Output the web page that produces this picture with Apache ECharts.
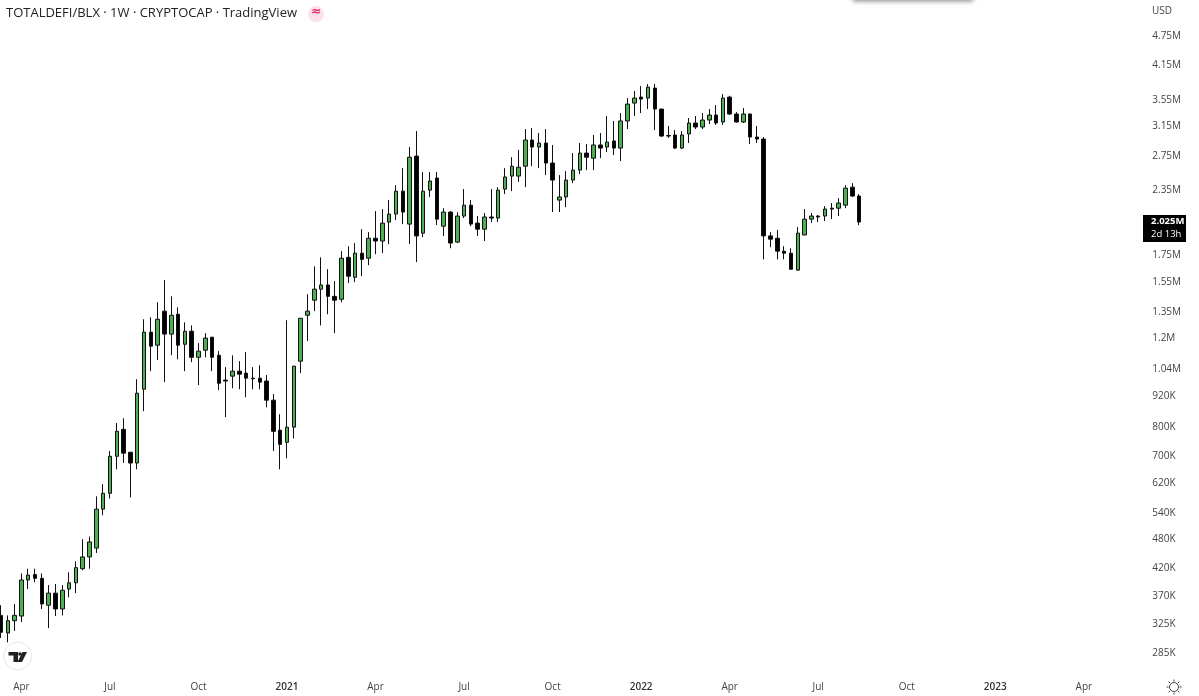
<!DOCTYPE html>
<html>
<head>
<meta charset="utf-8">
<style>html,body{margin:0;padding:0;background:#fff}#c{width:1199px;height:696px}</style>
<script src="https://cdn.jsdelivr.net/npm/echarts@6/dist/echarts.min.js"></script>
</head>
<body>
<div id="c"></div>
<script>
// Prices in thousands of USD, one entry per weekly candle, starting 2020-03-16
const opens = [337,311,329,336,396,406,399,353,373,347,380,391,417,440,458,547,588,696,787,709,675,945,1226,1155,1349,1215,1330,1160,1231,1093,1129,1198,1103,985,1003,1026,1017,994,994,981,899,784,742,795,1074,1324,1418,1491,1520,1443,1424,1724,1574,1757,1717,1881,1857,2025,2100,2331,2006,2735,1925,2342,2475,1987,2119,1848,2081,2187,2015,1960,2072,2062,2353,2497,2497,2612,2943,2850,2903,2650,2238,2270,2452,2566,2773,2709,2877,2850,2930,2837,3210,3483,3579,3563,3729,3389,3004,3011,2837,3025,3180,3123,3224,3298,3195,3579,3313,3195,3313,2983,2956,1901,1881,1773,1757,1626,1909,2052,2081,2081,2157,2157,2187,2374,2280];
const closes = [312,329,337,396,405,399,355,373,347,378,391,419,440,471,547,588,696,780,706,675,928,1226,1150,1300,1215,1324,1155,1231,1093,1124,1193,1093,971,981,1026,1012,994,991,976,899,780,735,795,1050,1306,1349,1491,1520,1443,1418,1717,1582,1757,1708,1881,1857,2015,2100,2331,2119,2721,1901,2331,2441,2052,2119,1840,2081,2187,2006,1960,2072,2062,2342,2486,2612,2600,2943,2850,2903,2650,2452,2270,2452,2566,2773,2721,2877,2837,2916,2837,3210,3467,3563,3547,3746,3389,2997,2997,2837,3011,3180,3123,3224,3298,3180,3563,3313,3195,3313,2983,2956,1901,1873,1773,1757,1633,1925,2052,2081,2072,2148,2148,2208,2363,2280,2025];
const lows = [304,298,314,327,380,392,347,318,336,337,366,373,414,417,448,532,574,656,675,577,656,855,1026,1079,976,1103,1083,1026,1069,963,1093,1026,941,832,949,945,911,945,945,870,713,656,690,755,1017,1177,1349,1264,1330,1220,1405,1533,1540,1582,1663,1749,1757,1831,2043,2006,1831,1687,1890,2270,1997,1901,1797,1840,2062,1987,1901,1857,2025,2025,2300,2331,2430,2374,2612,2589,2508,2119,2119,2167,2418,2520,2566,2566,2709,2786,2749,2674,3094,3283,3328,3389,3080,2983,2970,2824,2824,2903,3094,3094,3166,3152,3152,3298,3190,3180,2889,2903,1708,1805,1708,1708,1630,1624,1907,2015,2025,2034,2052,2081,2157,2270,1997];
const highs = [353,337,355,408,417,417,408,387,389,387,410,431,477,483,580,613,713,810,828,710,989,1300,1312,1405,1554,1443,1373,1282,1264,1166,1220,1200,1124,1045,1103,1074,1119,1045,1054,1008,924,843,1294,1050,1306,1457,1655,1724,1633,1547,1773,1813,1839,1960,1934,2128,2148,2238,2396,2589,2850,3066,2543,2543,2543,2157,2128,2119,2353,2238,2081,2110,2353,2374,2589,2721,2811,3094,3108,3038,3094,2877,2508,2554,2773,2903,2889,3011,3038,3283,3210,3328,3563,3680,3763,3797,3797,3392,3138,3080,3066,3253,3283,3328,3389,3452,3628,3600,3343,3405,3320,3138,2983,1934,1952,1814,1797,1979,2148,2110,2091,2177,2208,2258,2396,2418,2300];

// Right-hand scale: tick values (thousands) and their printed labels
const tickValues = [4750,4150,3550,3150,2750,2350,1750,1550,1350,1200,1040,920,800,700,620,540,480,420,370,325,285];
const tickLabels = ['4.75M','4.15M','3.55M','3.15M','2.75M','2.35M','1.75M','1.55M','1.35M','1.2M','1.04M','920K','800K','700K','620K','540K','480K','420K','370K','325K','285K'];

// Weekly categories, with room on the right up to the axis
const firstWeek = Date.UTC(2020, 2, 16);
const weekCount = 168;
const categories = [];
for (let i = 0; i < weekCount; i++) {
  categories.push(new Date(firstWeek + i * 7 * 864e5).toISOString().slice(0, 10));
}
const timeTickWeeks = ['2020-04-06','2020-07-06','2020-10-05','2021-01-04','2021-04-05','2021-07-05','2021-10-04','2022-01-03','2022-04-04','2022-07-04','2022-10-03','2023-01-02','2023-04-03'];
const timeTickLabels = ['Apr','Jul','Oct','2021','Apr','Jul','Oct','2022','Apr','Jul','Oct','2023','Apr'];

const lastPrice = '2.025M';
const countdown = '2d 13h';
const titleText = 'TOTALDEFI/BLX · 1W · CRYPTOCAP · TradingView';

const candleData = opens.map((o, i) => [o, closes[i], lows[i], highs[i]]);
const FONT = '"Open Sans", "Noto Sans", sans-serif';

const sunRays = [];
for (let a = 0; a < 8; a++) {
  const t = a * Math.PI / 4;
  sunRays.push({ type: 'line', shape: {
    x1: 1174 + 5.5 * Math.cos(t), y1: 687 + 5.5 * Math.sin(t),
    x2: 1174 + 7.5 * Math.cos(t), y2: 687 + 7.5 * Math.sin(t)
  }, style: { stroke: '#444', lineWidth: 1 }, silent: true });
}

const chart = echarts.init(document.getElementById('c'), null, { renderer: 'canvas' });
chart.setOption({
  animation: false,
  backgroundColor: '#fff',
  grid: { left: 1, width: 1137.3, top: 0, height: 674, containLabel: false },
  xAxis: {
    type: 'category',
    data: categories,
    boundaryGap: false,
    axisLine: { show: false },
    axisTick: { show: false },
    splitLine: { show: false },
    axisLabel: {
      interval: (i, v) => timeTickWeeks.includes(v),
      formatter: v => {
        const l = timeTickLabels[timeTickWeeks.indexOf(v)];
        return /^\d/.test(l) ? '{y|' + l + '}' : l;
      },
      rich: { y: { fontFamily: FONT, fontSize: 10, fontWeight: 600, color: '#333' } },
      hideOverlap: false,
      color: '#444',
      fontFamily: FONT,
      fontSize: 10,
      margin: 8
    }
  },
  yAxis: {
    type: 'log',
    logBase: 10,
    min: 258,
    max: 5572,
    position: 'right',
    axisLine: { show: false },
    axisTick: { show: false },
    splitLine: { show: false },
    minorTick: { show: false },
    axisLabel: {
      customValues: tickValues,
      formatter: v => {
        let k = 0, d = Infinity;
        tickValues.forEach((t, i) => { const e = Math.abs(t - v); if (e < d) { d = e; k = i; } });
        return tickLabels[k];
      },
      color: '#444',
      fontFamily: FONT,
      fontSize: 10,
      margin: 14,
      verticalAlign: 'top',
      padding: [-4, 0, 0, 0],
      align: 'left',
      showMinLabel: true,
      showMaxLabel: true
    }
  },
  series: [{
    type: 'candlestick',
    data: candleData,
    clip: false,
    barWidth: 4,
    itemStyle: {
      color: '#4caf50',
      color0: '#000',
      borderColor: '#111',
      borderColor0: '#111',
      borderWidth: 1
    }
  }],
  graphic: [
    { type: 'text', left: 6, top: 7, style: { text: titleText, fontFamily: FONT, fontSize: 13, fill: '#222' }, silent: true },
    { type: 'circle', shape: { cx: 316, cy: 14, r: 8 }, style: { fill: '#fce0ea' }, silent: true },
    { type: 'text', left: 311, top: 6, style: { text: '≈', fontFamily: 'DejaVu Sans', fontSize: 12, fontWeight: 700, fill: '#e0245e' }, silent: true },
    { type: 'text', left: 1152, top: 6, style: { text: 'USD', fontFamily: FONT, fontSize: 10, fill: '#444' }, silent: true },
    { type: 'rect', shape: { x: 1143, y: 215, width: 43, height: 27 }, style: { fill: '#000' }, silent: true },
    { type: 'text', left: 1151, top: 216, style: { text: lastPrice, fontFamily: FONT, fontSize: 9.5, fontWeight: 700, fill: '#fff' }, silent: true },
    { type: 'text', left: 1151, top: 229, style: { text: countdown, fontFamily: FONT, fontSize: 9.5, fill: '#fff' }, silent: true },
    { type: 'circle', shape: { cx: 17.7, cy: 656, r: 14 }, style: { fill: '#fff', stroke: '#e8e8e8', lineWidth: 1 }, silent: true },
    { type: 'polygon', shape: { points: [[8.5,652],[18,652],[18,662],[13.5,662],[13.5,655.5],[8.5,655.5]] }, style: { fill: '#222' }, silent: true },
    { type: 'circle', shape: { cx: 20, cy: 654, r: 1.8 }, style: { fill: '#222' }, silent: true },
    { type: 'polygon', shape: { points: [[22.5,652],[27,652],[22,662],[17.5,662]] }, style: { fill: '#222' }, silent: true },
    { type: 'circle', shape: { cx: 1174, cy: 687, r: 4.5 }, style: { fill: 'none', stroke: '#444', lineWidth: 1 }, silent: true },
    ...sunRays,
    { type: 'rect', shape: { x: 853, y: -6, width: 120, height: 6 }, style: { fill: '#ddd', shadowBlur: 5, shadowColor: 'rgba(0,0,0,0.5)', shadowOffsetY: 1 }, silent: true }
  ]
});
</script>
</body>
</html>
